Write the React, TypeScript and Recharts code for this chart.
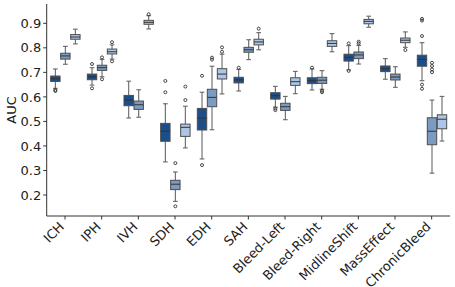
import React from 'react';
import { ComposedChart, Bar, XAxis, YAxis } from 'recharts';

const categories = ['ICH', 'IPH', 'IVH', 'SDH', 'EDH', 'SAH', 'Bleed-Left', 'Bleed-Right', 'MidlineShift', 'MassEffect', 'ChronicBleed'];

// [whiskerLow, q1, median, q3, whiskerHigh]
type Box = [number, number, number, number, number];

const darkBoxes: Box[] = [
  [0.635, 0.663, 0.674, 0.685, 0.714],
  [0.648, 0.670, 0.682, 0.693, 0.719],
  [0.514, 0.564, 0.587, 0.606, 0.664],
  [0.335, 0.419, 0.460, 0.492, 0.572],
  [0.347, 0.465, 0.513, 0.553, 0.619],
  [0.624, 0.657, 0.669, 0.680, 0.712],
  [0.558, 0.591, 0.605, 0.617, 0.643],
  [0.628, 0.654, 0.666, 0.678, 0.714],
  [0.710, 0.746, 0.761, 0.774, 0.809],
  [0.672, 0.703, 0.715, 0.726, 0.756],
  [0.666, 0.725, 0.753, 0.770, 0.821],
];
const darkOutliers: number[][] = [
  [0.628, 0.624], [0.734, 0.635], [], [0.665, 0.619], [0.686, 0.322], [0.719],
  [0.553, 0.546], [0.719], [0.818, 0.706], [], [0.918, 0.911, 0.848, 0.650, 0.633],
];

const midBoxes: Box[] = [
  [0.733, 0.754, 0.767, 0.778, 0.806],
  [0.682, 0.708, 0.719, 0.729, 0.753],
  [0.517, 0.549, 0.568, 0.583, 0.629],
  [0.174, 0.222, 0.244, 0.260, 0.294],
  [0.466, 0.560, 0.598, 0.631, 0.725],
  [0.752, 0.782, 0.792, 0.802, 0.833],
  [0.507, 0.545, 0.560, 0.574, 0.602],
  [0.631, 0.655, 0.668, 0.680, 0.707],
  [0.734, 0.756, 0.771, 0.783, 0.810],
  [0.639, 0.669, 0.681, 0.693, 0.723],
  [0.289, 0.405, 0.460, 0.515, 0.587],
];
const midOutliers: number[][] = [
  [], [0.761, 0.672], [], [0.330, 0.154], [0.760, 0.752], [],
  [], [0.625, 0.619], [0.825, 0.818], [], [0.739, 0.726, 0.712, 0.701],
];

const lightBoxes: Box[] = [
  [0.816, 0.835, 0.844, 0.854, 0.876],
  [0.754, 0.775, 0.784, 0.795, 0.812],
  [0.877, 0.896, 0.904, 0.912, 0.931],
  [0.392, 0.439, 0.476, 0.489, 0.562],
  [0.612, 0.673, 0.693, 0.715, 0.774],
  [0.792, 0.812, 0.824, 0.835, 0.862],
  [0.613, 0.647, 0.662, 0.678, 0.704],
  [0.784, 0.806, 0.818, 0.829, 0.858],
  [0.884, 0.898, 0.908, 0.916, 0.929],
  [0.802, 0.821, 0.831, 0.840, 0.865],
  [0.420, 0.470, 0.509, 0.527, 0.602],
];
const lightOutliers: number[][] = [
  [], [0.823, 0.745], [0.937], [0.642, 0.587], [0.802, 0.784], [0.878],
  [], [], [], [0.791], [],
];

const yTicks = [0.2, 0.3, 0.4, 0.5, 0.6, 0.7, 0.8, 0.9];

const data = categories.map((cat, i) => ({
  cat,
  dark: { box: darkBoxes[i], out: darkOutliers[i] },
  mid: { box: midBoxes[i], out: midOutliers[i] },
  light: { box: lightBoxes[i], out: lightOutliers[i] },
}));

const EDGE = '#4d4d4d';
const WHISK = '#666666';
const FONT = 'DejaVu Sans, sans-serif';

function makeBoxShape(key: 'dark' | 'mid' | 'light', color: string) {
  return (props: any) => {
    const { x, y, width, height, payload } = props;
    const s = payload[key];
    const [lo, q1, med, q3, hi] = s.box as Box;
    const k = height / (hi - lo);
    const py = (v: number) => y + (hi - v) * k;
    const cx = x + width / 2;
    const bw = width - 0.6;
    const bx = cx - bw / 2;
    const capW = bw * 0.5;
    return (
      <g>
        <line x1={cx} x2={cx} y1={py(hi)} y2={py(q3)} stroke={WHISK} strokeWidth={1.1} />
        <line x1={cx} x2={cx} y1={py(q1)} y2={py(lo)} stroke={WHISK} strokeWidth={1.1} />
        <line x1={cx - capW / 2} x2={cx + capW / 2} y1={py(hi)} y2={py(hi)} stroke={WHISK} strokeWidth={1.1} />
        <line x1={cx - capW / 2} x2={cx + capW / 2} y1={py(lo)} y2={py(lo)} stroke={WHISK} strokeWidth={1.1} />
        <rect x={bx} y={py(q3)} width={bw} height={py(q1) - py(q3)} fill={color} stroke={EDGE} strokeWidth={1} />
        <line x1={bx} x2={bx + bw} y1={py(med)} y2={py(med)} stroke={'#333333'} strokeWidth={1} />
        {(s.out as number[]).map((o, j) => (
          <circle key={j} cx={cx} cy={py(o)} r={1.5} fill="none" stroke="#333333" strokeWidth={0.9} />
        ))}
      </g>
    );
  };
}

const XTick = (props: any) => {
  const { x, y, payload } = props;
  const ax = x;
  const ay = y + 8;
  return (
    <text
      x={ax}
      y={ay}
      transform={`rotate(-45, ${ax}, ${ay})`}
      textAnchor="end"
      fontSize={13}
      fontFamily={FONT}
      fill="#222"
    >
      {payload.value}
    </text>
  );
};

const YLabel = (props: any) => {
  const vb = props.viewBox || { x: 0, y: 4, width: 47, height: 212 };
  const lx = 15.5;
  const ly = vb.y + vb.height / 2;
  return (
    <text x={lx} y={ly} transform={`rotate(-90, ${lx}, ${ly})`} textAnchor="middle" fontSize={13} fontFamily={FONT} fill="#222">
      AUC
    </text>
  );
};

export default function App() {
  return (
    <div style={{ position: 'fixed', left: 0, top: 0, width: 455, height: 287, background: '#fff' }}>
      <ComposedChart
        width={455}
        height={287}
        data={data}
        margin={{ top: 4, right: 5, bottom: 0, left: 0 }}
        barCategoryGap="10%"
        barGap={0}
      >
        <XAxis
          dataKey="cat"
          type="category"
          height={71}
          tickSize={3.5}
          tickMargin={0}
          tick={<XTick />}
          axisLine={{ stroke: '#333', strokeWidth: 1 }}
          tickLine={{ stroke: '#333', strokeWidth: 1 }}
          interval={0}
        />
        <YAxis
          type="number"
          domain={[0.1144, 0.9787]}
          allowDataOverflow
          ticks={yTicks}
          tickFormatter={(v: number) => v.toFixed(1)}
          width={46.7}
          tickSize={3.5}
          tickMargin={2}
          axisLine={{ stroke: '#333', strokeWidth: 1 }}
          tickLine={{ stroke: '#333', strokeWidth: 1 }}
          tick={{ fontSize: 13, fontFamily: FONT, fill: '#222' }}
          label={<YLabel />}
        />
        <Bar dataKey={(d: any) => [d.dark.box[0], d.dark.box[4]]} shape={makeBoxShape('dark', '#1c4e8b')} isAnimationActive={false} />
        <Bar dataKey={(d: any) => [d.mid.box[0], d.mid.box[4]]} shape={makeBoxShape('mid', '#7b9bc0')} isAnimationActive={false} />
        <Bar dataKey={(d: any) => [d.light.box[0], d.light.box[4]]} shape={makeBoxShape('light', '#adc5e7')} isAnimationActive={false} />
      </ComposedChart>
    </div>
  );
}
